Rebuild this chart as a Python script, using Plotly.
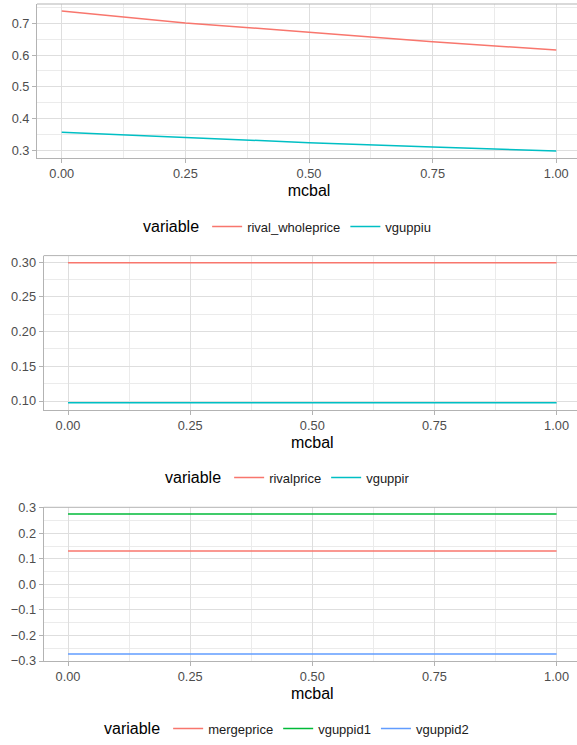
import plotly.graph_objects as go

# mcbal grid shared by all three panels
mcbal = [0.0, 0.25, 0.50, 0.75, 1.0]

# Panel 1: upstream prices
rival_wholeprice = [0.739, 0.701, 0.672, 0.642, 0.616]
vguppiu = [0.357, 0.340, 0.324, 0.310, 0.298]

# Panel 2: rival retail price
rivalprice = [0.2995, 0.2995, 0.2995, 0.2995, 0.2995]
vguppir = [0.0976, 0.0976, 0.0976, 0.0976, 0.0976]

# Panel 3: downstream effects
mergeprice = [0.1305, 0.1305, 0.1305, 0.1305, 0.1305]
vguppid1 = [0.2753, 0.2753, 0.2753, 0.2753, 0.2753]
vguppid2 = [-0.2726, -0.2726, -0.2726, -0.2726, -0.2726]

RED, TEAL = "#F8766D", "#00BFC4"
GREEN, BLUE = "#00BA38", "#619CFF"

# canvas is a few px wider than the viewport so the panels' right frame sits just off-screen
W, H = 581, 745
FONT = "Liberation Sans, Arial, sans-serif"
GRID = "#DEDEDE"
MINOR = "#EBEBEB"
BORDER = "#B3B3B3"

fig = go.Figure()

# (axis suffix, legend id, series, left px, top px, bottom px, y range, y dtick, y format, minor dtick, minor tick0)
panels = [
    ("", "legend", [("rival_wholeprice", rival_wholeprice, RED), ("vguppiu", vguppiu, TEAL)],
     37, 4, 158, [0.2757, 0.7608], 0.1, ".1f", 0.05, 0.05),
    ("2", "legend2", [("rivalprice", rivalprice, RED), ("vguppir", vguppir, TEAL)],
     43.6, 255.6, 409.7, [0.08745, 0.30966], 0.05, ".2f", 0.025, 0.025),
    ("3", "legend3", [("mergeprice", mergeprice, RED), ("vguppid1", vguppid1, GREEN),
                      ("vguppid2", vguppid2, BLUE)],
     43.6, 507.3, 661, [-0.300, 0.3016], 0.1, ".1f", 0.05, 0.05),
]

legend_y = {"legend": 227, "legend2": 478, "legend3": 729}
legend_x = {"legend": 141, "legend2": 163, "legend3": 102}

for suffix, leg, series, left, top, bottom, yr, ydt, yfmt, mdt, m0 in panels:
    for name, vals, col in series:
        fig.add_trace(go.Scatter(
            x=mcbal, y=vals, mode="lines", name=name,
            line=dict(color=col, width=1.5),
            xaxis="x" + suffix, yaxis="y" + suffix, legend=leg,
        ))
    fig.layout["xaxis" + suffix] = dict(
        domain=[left / W, 1.0], range=[-0.05, 1.05], automargin=False,
        tickmode="linear", tick0=0, dtick=0.25, tickformat=".2f",
        showgrid=True, gridcolor=GRID, gridwidth=1,
        minor=dict(tickmode="linear", tick0=0.125, dtick=0.25,
                   showgrid=True, gridcolor=MINOR, gridwidth=1),
        showline=True, linecolor=BORDER, linewidth=1, mirror=False,
        ticks="outside", ticklen=4, tickcolor=BORDER, tickwidth=1,
        tickfont=dict(family=FONT, size=12.8, color="#4D4D4D"),
        title=dict(text="mcbal", font=dict(family=FONT, size=16, color="#000000"), standoff=4),
        zeroline=False, anchor="y" + suffix,
    )
    fig.layout["yaxis" + suffix] = dict(
        domain=[1 - bottom / H, 1 - top / H], range=yr, automargin=False,
        tickmode="linear", dtick=ydt, tick0=0, tickformat=yfmt,
        showgrid=True, gridcolor=GRID, gridwidth=1,
        minor=dict(tickmode="linear", dtick=mdt, tick0=m0, showgrid=True, gridcolor=MINOR, gridwidth=1),
        showline=True, linecolor=BORDER, linewidth=1, mirror=False,
        ticks="outside", ticklen=4, tickcolor=BORDER, tickwidth=1,
        tickfont=dict(family=FONT, size=12.8, color="#4D4D4D"),
        zeroline=False, anchor="x" + suffix,
    )
    # top edge of the panel frame
    fig.add_shape(type="line", xref=f"x{suffix} domain", yref=f"y{suffix} domain",
                  x0=0, x1=1, y0=1, y1=1, line=dict(color=BORDER, width=1), layer="above")
    fig.layout[leg] = dict(
        orientation="h", x=legend_x[leg] / W, xanchor="left",
        y=1 - legend_y[leg] / H, yanchor="middle",
        title=dict(text="variable", side="left", font=dict(family=FONT, size=16, color="#000000")),
        font=dict(family=FONT, size=13, color="#1A1A1A"),
        bgcolor="rgba(0,0,0,0)", borderwidth=0,
    )

fig.update_layout(
    width=W, height=H,
    margin=dict(l=0, r=0, t=0, b=0, autoexpand=False),
    paper_bgcolor="white", plot_bgcolor="white",
    showlegend=True,
)

# no scrollbars for the slightly wider canvas
fig.write_html(
    "out.html",
    post_script="document.documentElement.style.overflow='hidden';"
                "document.body.style.overflow='hidden';document.body.style.margin='0';",
)
